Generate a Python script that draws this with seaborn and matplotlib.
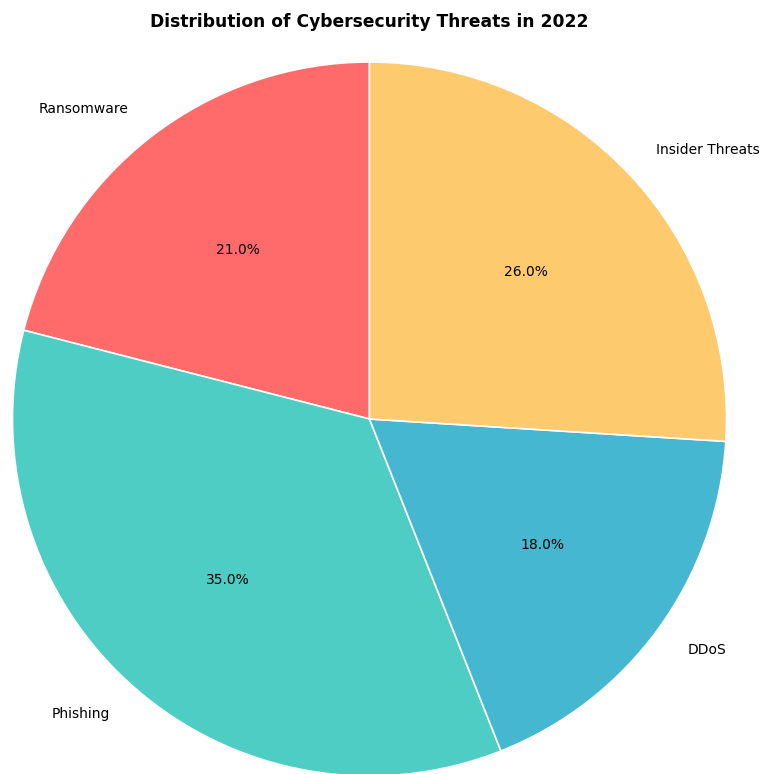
import matplotlib
matplotlib.use("Agg")
import matplotlib.pyplot as plt
import seaborn as sns

sns.set_theme(style="white")
plt.rcParams['font.family'] = ['DejaVu Sans']

categories = ["Ransomware", "Phishing", "DDoS", "Insider Threats"]
values = [21.0, 35.0, 18.0, 26.0]
colors = ["#FF6B6B", "#4ECDC4", "#45B7D1", "#FDCA6E"]

W, H = 762, 774
cx, cy, r = 369.5, 355, 357  # center in px (from bottom), radius px

fig = plt.figure(figsize=(W / 100, H / 100), dpi=100)
ax = fig.add_axes([0, 0, 1, 1])
wedges, texts, autotexts = ax.pie(
    values, labels=categories, colors=colors, autopct="%1.1f%%",
    startangle=90, counterclock=True,
    wedgeprops=dict(edgecolor="white", linewidth=1.2),
    textprops=dict(fontsize=10, color="black"),
)
ax.set_xlim(-cx / r, (W - cx) / r)
ax.set_ylim(-cy / r, (H - cy) / r)
ax.set_aspect("auto")
ax.axis("off")
fig.text(369 / W, 1 - 22 / H, "Distribution of Cybersecurity Threats in 2022",
         ha="center", va="center", fontsize=12.3, fontweight="bold", color="black")
fig.savefig("out.png", dpi=100)
